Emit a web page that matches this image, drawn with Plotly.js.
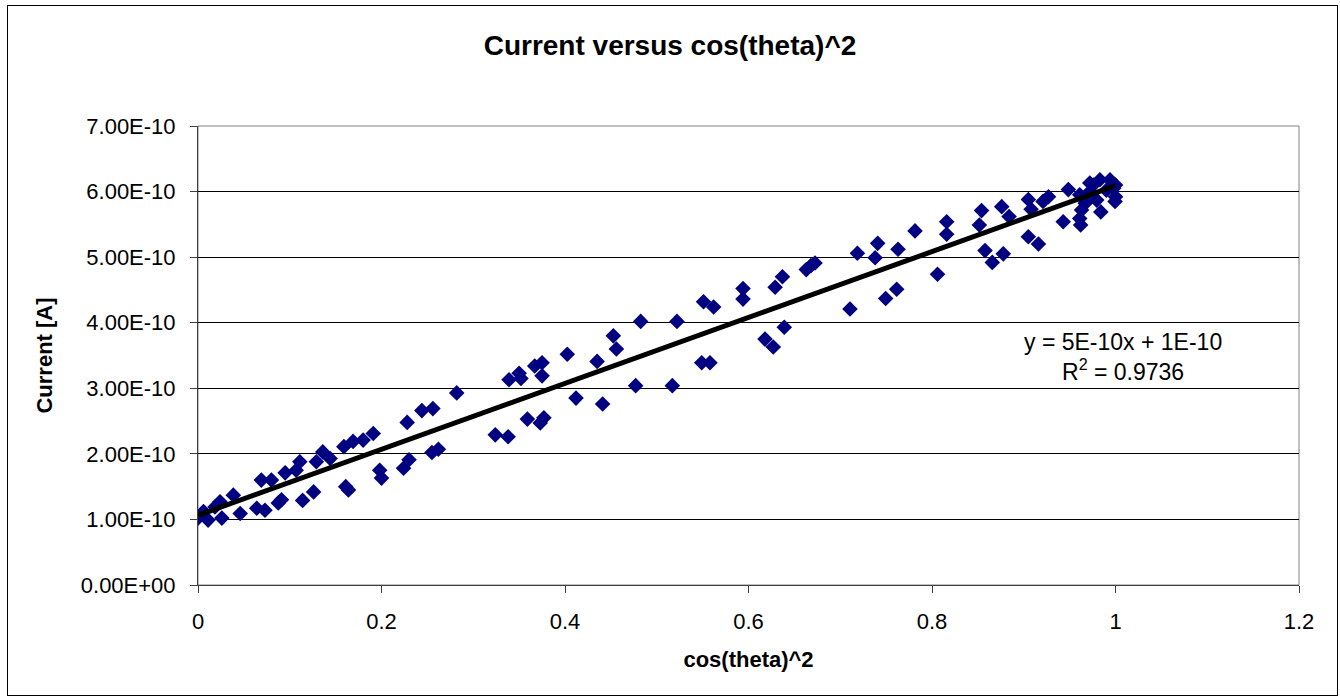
<!DOCTYPE html>
<html>
<head>
<meta charset="utf-8">
<script src="https://cdn.plot.ly/plotly-3.0.1.min.js"></script>
<style>
  html, body { margin: 0; padding: 0; background: #fff; }
  #wrap { position: relative; width: 1340px; height: 699px; }
  #chart { position: absolute; left: 0; top: 0; width: 1340px; height: 699px; }
  #frame { position: absolute; left: 7px; top: 5px; width: 1329px; height: 689px;
           border: 1px solid #000; pointer-events: none; }
</style>
</head>
<body>
<div id="wrap">
  <div id="chart"></div>
  <div id="frame"></div>
</div>
<script>
// Measured photocurrent against cos^2 of the polarizer angle
const cosSq = [
  0, 0.006, 0.011, 0.0185, 0.024, 0.026, 0.0385, 0.046, 0.064, 0.073,
  0.069, 0.080, 0.0875, 0.091, 0.095, 0.107, 0.111, 0.114, 0.126, 0.129,
  0.136, 0.144, 0.159, 0.161, 0.164, 0.169, 0.180, 0.191, 0.198, 0.200,
  0.224, 0.230, 0.228, 0.244, 0.256, 0.255, 0.262, 0.282, 0.324, 0.338,
  0.339, 0.350, 0.352, 0.359, 0.367, 0.375, 0.375, 0.373, 0.377, 0.4025,
  0.412, 0.435, 0.441, 0.4527, 0.456, 0.477, 0.4825, 0.517, 0.522, 0.549,
  0.558, 0.551, 0.562, 0.594, 0.594, 0.618, 0.627, 0.629, 0.637, 0.639,
  0.663, 0.6725, 0.668, 0.7106, 0.7187, 0.738, 0.7408, 0.7495, 0.7615, 0.763,
  0.7815, 0.806, 0.816, 0.816, 0.8516, 0.854, 0.8578, 0.8657, 0.8777, 0.876,
  0.884, 0.905, 0.908, 0.905, 0.916, 0.921, 0.927, 0.943, 0.9486, 0.962,
  0.961, 0.963, 0.967, 0.972, 0.970, 0.9758, 0.983, 0.994, 0.984, 0.9795,
  0.990, 0.998, 1.0, 1.0, 0.9995, 0.961
];
const current = [
  1.02e-10, 1.12e-10, 0.99e-10, 1.19e-10, 1.27e-10, 1.02e-10, 1.37e-10, 1.09e-10, 1.17e-10, 1.14e-10,
  1.60e-10, 1.60e-10, 1.25e-10, 1.30e-10, 1.71e-10, 1.75e-10, 1.88e-10, 1.29e-10, 1.42e-10, 1.88e-10,
  2.03e-10, 1.93e-10, 2.11e-10, 1.50e-10, 1.45e-10, 2.19e-10, 2.21e-10, 2.31e-10, 1.75e-10, 1.63e-10,
  1.78e-10, 1.91e-10, 2.48e-10, 2.66e-10, 2.69e-10, 2.02e-10, 2.07e-10, 2.93e-10, 2.29e-10, 2.26e-10,
  3.13e-10, 3.23e-10, 3.15e-10, 2.53e-10, 3.34e-10, 3.39e-10, 3.19e-10, 2.47e-10, 2.55e-10, 3.52e-10,
  2.85e-10, 3.41e-10, 2.76e-10, 3.80e-10, 3.60e-10, 3.04e-10, 4.02e-10, 3.04e-10, 4.02e-10, 3.39e-10,
  3.39e-10, 4.32e-10, 4.24e-10, 4.52e-10, 4.36e-10, 3.75e-10, 3.63e-10, 4.54e-10, 4.70e-10, 3.93e-10,
  4.81e-10, 4.91e-10, 4.87e-10, 4.21e-10, 5.06e-10, 4.99e-10, 5.21e-10, 4.37e-10, 4.51e-10, 5.12e-10,
  5.40e-10, 4.74e-10, 5.54e-10, 5.35e-10, 5.49e-10, 5.71e-10, 5.10e-10, 4.92e-10, 5.05e-10, 5.77e-10,
  5.62e-10, 5.88e-10, 5.73e-10, 5.31e-10, 5.20e-10, 5.85e-10, 5.92e-10, 5.54e-10, 6.03e-10, 5.49e-10,
  5.59e-10, 5.72e-10, 5.82e-10, 6.13e-10, 5.97e-10, 6.10e-10, 6.18e-10, 6.18e-10, 5.69e-10, 5.87e-10,
  6.02e-10, 6.05e-10, 5.92e-10, 6.10e-10, 5.85e-10, 5.95e-10
];

const yTickValues = [0, 1e-10, 2e-10, 3e-10, 4e-10, 5e-10, 6e-10, 7e-10];
const yTickLabels = ['0.00E+00', '1.00E-10', '2.00E-10', '3.00E-10', '4.00E-10', '5.00E-10', '6.00E-10', '7.00E-10'];
const xTickValues = [0, 0.2, 0.4, 0.6, 0.8, 1, 1.2];
const xTickLabels = ['0', '0.2', '0.4', '0.6', '0.8', '1', '1.2'];
const fitLabel = 'y = 5E-10x + 1E-10<br>R<sup>2</sup> = 0.9736';

// Least-squares linear trendline over the measured points
function linearFit(xs, ys) {
  const n = xs.length;
  let sx = 0, sy = 0, sxx = 0, sxy = 0;
  for (let i = 0; i < n; i++) {
    sx += xs[i]; sy += ys[i]; sxx += xs[i] * xs[i]; sxy += xs[i] * ys[i];
  }
  const slope = (n * sxy - sx * sy) / (n * sxx - sx * sx);
  const intercept = (sy - slope * sx) / n;
  return { slope, intercept };
}
const fit = linearFit(cosSq, current);
const fitX = [Math.min(...cosSq), Math.max(...cosSq)];
const fitY = fitX.map(x => fit.slope * x + fit.intercept);

const font = 'Liberation Sans, Arial, sans-serif';

const traces = [
  {
    x: cosSq, y: current, type: 'scatter', mode: 'markers',
    marker: { symbol: 'diamond', size: 12, color: '#000080', line: { width: 0 } },
    hoverinfo: 'x+y'
  },
  {
    x: fitX, y: fitY, type: 'scatter', mode: 'lines',
    line: { color: '#000000', width: 5 },
    hoverinfo: 'skip'
  }
];

const layout = {
  width: 1340, height: 699,
  margin: { l: 198, r: 41, t: 126, b: 114, pad: 0 },
  paper_bgcolor: '#ffffff', plot_bgcolor: '#ffffff',
  showlegend: false,
  font: { family: font, size: 22, color: '#000' },
  title: {
    text: '<b>Current versus cos(theta)^2</b>',
    font: { family: font, size: 28, color: '#000' },
    xref: 'container', x: 0.5, xanchor: 'center',
    yref: 'container', y: 1 - 45 / 699, yanchor: 'middle'
  },
  xaxis: {
    range: [0, 1.2], tickvals: xTickValues, ticktext: xTickLabels,
    showgrid: false, zeroline: false,
    showline: true, linecolor: '#404040', linewidth: 1,
    ticks: 'outside', ticklen: 7, tickcolor: '#404040', tickwidth: 1,
    ticklabelstandoff: 10,
    tickfont: { family: font, size: 22, color: '#000' },
    title: { text: '<b>cos(theta)^2</b>', font: { family: font, size: 22, color: '#000' }, standoff: 18 }
  },
  yaxis: {
    range: [0, 7e-10], tickvals: yTickValues, ticktext: yTickLabels,
    showgrid: true, gridcolor: '#000000', gridwidth: 1, zeroline: false,
    showline: true, linecolor: '#404040', linewidth: 1,
    ticks: 'outside', ticklen: 7, tickcolor: '#404040', tickwidth: 1,
    ticklabelstandoff: 10,
    tickfont: { family: font, size: 22, color: '#000' },
    title: { text: '<b>Current [A]</b>', font: { family: font, size: 22, color: '#000' }, standoff: 22 }
  },
  shapes: [
    { type: 'rect', xref: 'paper', yref: 'paper', x0: 0, x1: 1, y0: 0, y1: 1,
      line: { color: '#808080', width: 1 }, layer: 'below' }
  ],
  annotations: [
    { text: fitLabel, xref: 'paper', yref: 'paper', x: 0.84, y: 0.497,
      xanchor: 'center', yanchor: 'middle', showarrow: false, align: 'center',
      font: { family: font, size: 23, color: '#000' } }
  ]
};

Plotly.newPlot('chart', traces, layout, { displayModeBar: false, staticPlot: true });
</script>
</body>
</html>
